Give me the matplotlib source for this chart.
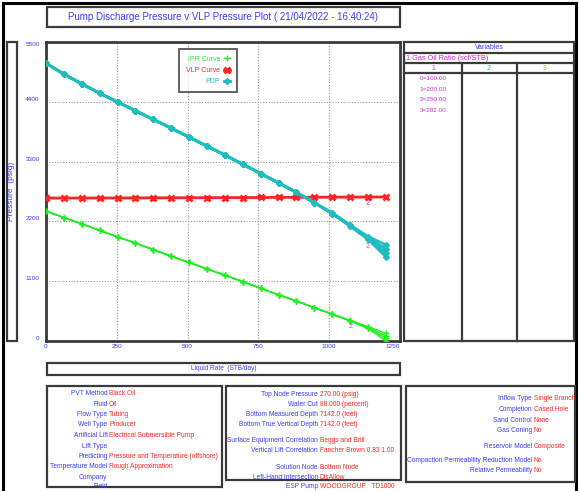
import matplotlib
matplotlib.use('Agg')
import matplotlib.pyplot as plt
from matplotlib.patches import Rectangle

plt.rcParams['font.family'] = ['Liberation Sans Narrow', 'Liberation Sans', 'DejaVu Sans']

# ---- data ----
rates = [0, 63, 126, 189, 253, 316, 379, 442, 505, 568, 632, 695, 758, 821, 884,
         947, 1011, 1074, 1137, 1200]

ipr_gor100 = [2390, 2270, 2155, 2035, 1915, 1800, 1680, 1560, 1445, 1327, 1210, 1090,
              970, 850, 735, 615, 495, 380, 265, 140]
ipr_gor200 = [2390, 2270, 2155, 2035, 1915, 1800, 1680, 1560, 1445, 1327, 1210, 1090,
              970, 850, 735, 615, 495, 375, 250, 95]
ipr_gor250 = [2390, 2270, 2155, 2035, 1915, 1800, 1680, 1560, 1445, 1327, 1210, 1090,
              970, 850, 735, 615, 490, 370, 240, 50]
ipr_gor282 = [2390, 2270, 2155, 2035, 1915, 1800, 1680, 1560, 1445, 1327, 1210, 1090,
              970, 850, 735, 615, 488, 365, 230, 5]

vlp = [2630, 2630, 2630, 2630, 2631, 2632, 2633, 2634, 2635, 2636, 2637, 2638, 2640,
       2641, 2642, 2644, 2645, 2647, 2648, 2650]

pdp_gor100 = [5110, 4910, 4730, 4560, 4395, 4235, 4075, 3915, 3750, 3585, 3420, 3250,
              3080, 2910, 2735, 2545, 2355, 2135, 1920, 1770]
pdp_gor200 = [5110, 4910, 4730, 4560, 4395, 4235, 4075, 3915, 3750, 3585, 3420, 3250,
              3080, 2910, 2735, 2545, 2350, 2125, 1900, 1690]
pdp_gor250 = [5110, 4910, 4730, 4560, 4395, 4235, 4075, 3915, 3750, 3585, 3420, 3250,
              3080, 2910, 2735, 2545, 2345, 2118, 1885, 1620]
pdp_gor282 = [5110, 4910, 4730, 4560, 4395, 4235, 4075, 3915, 3750, 3585, 3420, 3250,
              3080, 2910, 2735, 2545, 2340, 2110, 1870, 1550]

ipr_curves = [ipr_gor100, ipr_gor200, ipr_gor250, ipr_gor282]
pdp_curves = [pdp_gor100, pdp_gor200, pdp_gor250, pdp_gor282]

x_ticks = [0, 250, 500, 750, 1000, 1250]
y_ticks = [0, 1100, 2200, 3300, 4400, 5500]

gor_values = ['0=100.00', '1=200.00', '2=250.00', '3=282.00']

box1_labels = ['PVT Method', 'Fluid', 'Flow Type', 'Well Type', 'Artificial Lift',
               'Lift Type', 'Predicting', 'Temperature Model', 'Company', 'Field']
box1_values = ['Black Oil', 'Oil', 'Tubing', 'Producer', 'Electrical Submersible Pump',
               '', 'Pressure and Temperature (offshore)', 'Rough Approximation', '', '']

box2_labels = ['Top Node Pressure', 'Water Cut', 'Bottom Measured Depth',
               'Bottom True Vertical Depth', 'Surface Equipment Correlation',
               'Vertical Lift Correlation', 'Solution Node', 'Left-Hand Intersection',
               'ESP Pump']
box2_values = ['270.00 (psig)', '88.000 (percent)', '7142.0 (feet)', '7142.0 (feet)',
               'Beggs and Brill', 'Fancher Brown 0.83 1.00', 'Bottom Node', 'DisAllow',
               'WOODGROUP   TD1000']

box3_labels = ['Inflow Type', 'Completion', 'Sand Control', 'Gas Coning',
               'Reservoir Model', 'Compaction Permeability Reduction Model',
               'Relative Permeability']
box3_values = ['Single Branch', 'Cased Hole', 'None', 'No', 'Composite', 'No', 'No']

# ---- styling ----
W, H = 579, 491
BLUE = '#3c3cff'
RED = '#ff2424'
GREEN = '#22ee22'
CYAN = '#1fbdbd'
MAGENTA = '#cc33cc'
FRAME = '#3a3a3a'
INFO_FS = 4.8


def px_rect(x0, y0, x1, y1):
    return [x0 / W, 1 - y1 / H, (x1 - x0) / W, (y1 - y0) / H]


def box(x0, y0, x1, y1, lw=1.6, color=FRAME):
    fig.add_artist(Rectangle((x0 / W, 1 - y1 / H), (x1 - x0) / W, (y1 - y0) / H,
                             transform=fig.transFigure, fill=False, ec=color, lw=lw))


def line(x0, y0, x1, y1, lw=1.6):
    fig.add_artist(plt.Line2D([x0 / W, x1 / W], [1 - y0 / H, 1 - y1 / H],
                              transform=fig.transFigure, color=FRAME, lw=lw))


def ftext(x, y, s, **kw):
    fig.text(x / W, 1 - y / H, s, **kw)


fig = plt.figure(figsize=(W / 100, H / 100), dpi=100)

# main plot
ax = fig.add_axes(px_rect(46, 42, 400, 341))
for i, c in enumerate(ipr_curves):
    ax.plot(rates, c, color=GREEN, lw=1.0, marker='+', ms=5, mew=1.0,
            label='IPR Curve' if i == 0 else None, zorder=3)
ax.plot(rates, vlp, color=RED, lw=2.0, marker='x', ms=4.5, mew=2.0,
        label='VLP Curve', zorder=4)
for i, c in enumerate(pdp_curves):
    ax.plot(rates, c, color=CYAN, lw=2.0, marker='D', ms=3.0,
            label='PDP' if i == 0 else None, zorder=5)

ax.annotate('2', (rates[18], vlp[18]), xytext=(0, -5), textcoords='offset points',
            color=MAGENTA, fontsize=5, ha='center', va='center', zorder=6)
ax.annotate('2', (rates[18], pdp_gor282[18]), xytext=(0, -5), textcoords='offset points',
            color=MAGENTA, fontsize=5, ha='center', va='center', zorder=6)
ax.annotate('2', (rates[17], ipr_gor282[17]), xytext=(0, -4), textcoords='offset points',
            color=MAGENTA, fontsize=5, ha='center', va='center', zorder=6)

ax.set_xlim(0, 1250)
ax.set_ylim(0, 5500)
ax.set_xticks(x_ticks)
ax.set_yticks(y_ticks)
ax.tick_params(length=0, labelsize=4.6, labelcolor=BLUE)
ax.tick_params(axis='x', pad=2.5)
ax.tick_params(axis='y', pad=4.5)
for lab in ax.get_yticklabels():
    lab.set_va('bottom')
ax.get_yticklabels()[-1].set_va('top')
ax.get_xticklabels()[-1].set_ha('right')
ax.grid(True, color='#9a9a9a', lw=0.8, ls=(0, (1, 1.5)))
for s in ax.spines.values():
    s.set_color(FRAME)
    s.set_linewidth(2)

leg = ax.legend(loc='upper left', bbox_to_anchor=(0.376, 0.977), markerfirst=False,
                handlelength=0.8, handletextpad=0.6, fontsize=5.0, frameon=True,
                fancybox=False, borderpad=1.0, labelspacing=0.6, borderaxespad=0)
leg.get_frame().set_edgecolor(FRAME)
leg.get_frame().set_linewidth(1.4)
for t, c in zip(leg.get_texts(), [GREEN, RED, CYAN]):
    t.set_color(c)

# outer frame
box(3, 3, 576, 500, lw=2.2, color='black')

# title
box(47, 7, 400, 27)
ftext(223.5, 17, 'Pump Discharge Pressure v VLP Pressure Plot ( 21/04/2022 - 16:40:24)',
      ha='center', va='center', color=BLUE, fontsize=7.0)

# y label box
box(7, 42, 17, 341)
ftext(12, 191.5, 'Pressure  (psig)', rotation=90, ha='center', va='center',
      color=BLUE, fontsize=6.0)

# x label box
box(47, 363, 400, 375)
ftext(223.5, 369, 'Liquid Rate  (STB/day)', ha='center', va='center',
      color=BLUE, fontsize=4.7)

# variables panel
box(404, 42, 574, 341)
line(404, 53, 574, 53)
line(404, 63, 574, 63)
line(404, 73, 574, 73)
line(462, 63, 462, 341)
line(517, 63, 517, 341)
ftext(489, 47.5, 'Variables', ha='center', va='center', color=BLUE, fontsize=5.0)
ftext(406, 58, '1 Gas Oil Ratio (scf/STB)', ha='left', va='center', color=MAGENTA,
      fontsize=5.3)
ftext(433, 68, '1', ha='center', va='center', color=MAGENTA, fontsize=5.0)
ftext(489, 68, '2', ha='center', va='center', color='#33cccc', fontsize=5.0)
ftext(545, 68, '3', ha='center', va='center', color='#f0b030', fontsize=5.0)
for i, v in enumerate(gor_values):
    ftext(433, 78.5 + i * 10.7, v, ha='center', va='center', color=MAGENTA, fontsize=4.6)

# info boxes
box(47, 386, 222, 487)
box(226, 386, 401, 480)
box(406, 386, 575, 482)

box1_y = [393.5, 404, 414.5, 424.5, 435.5, 446, 456.5, 467, 477.5, 487]
box2_y = [394, 404, 414, 424.5, 441, 451, 467.5, 477.5, 487]
box3_y = [398.5, 409.5, 420, 430, 446, 461, 471]

for labels, values, ys, xs in [(box1_labels, box1_values, box1_y, 107.5),
                               (box2_labels, box2_values, box2_y, 318),
                               (box3_labels, box3_values, box3_y, 532)]:
    for lab, val, y in zip(labels, values, ys):
        ftext(xs, y, lab, ha='right', va='center', color=BLUE, fontsize=INFO_FS)
        ftext(xs + 1.5, y, val, ha='left', va='center', color=RED, fontsize=INFO_FS)

fig.savefig('out.png', dpi=100)
